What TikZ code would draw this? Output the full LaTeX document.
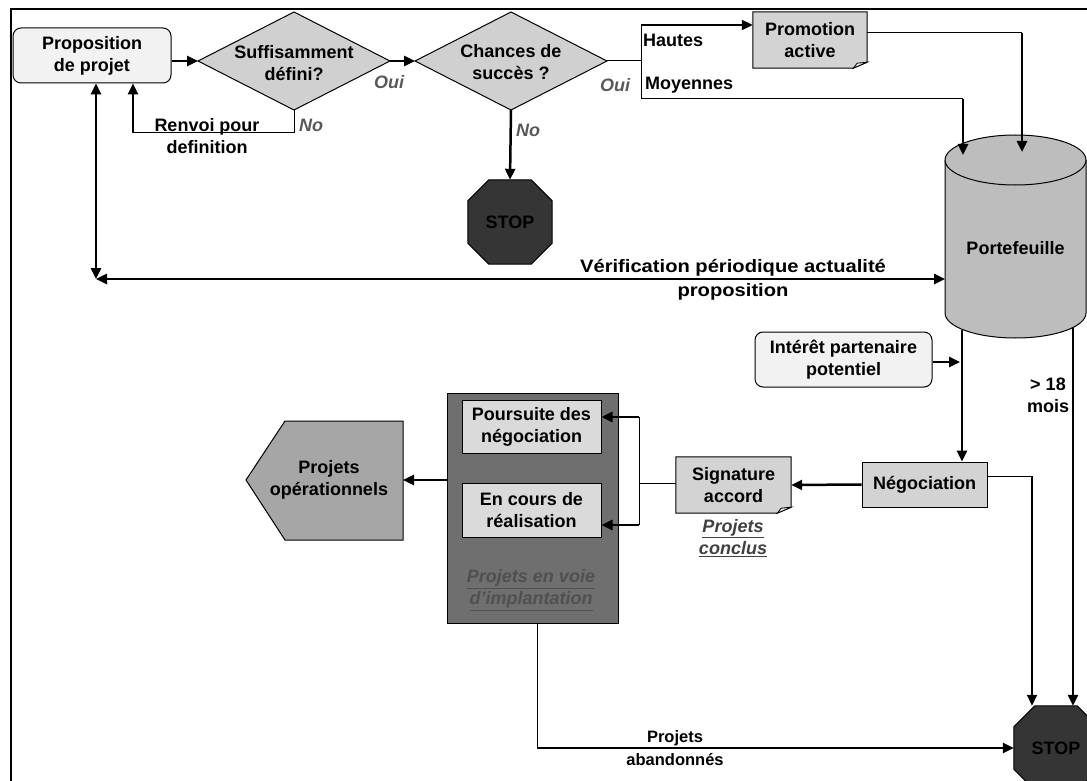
\documentclass[tikz,border=0pt]{standalone}
\usepackage{fontspec}
\usepackage{graphicx}
\setmainfont{Liberation Sans}
\usetikzlibrary{arrows.meta,shapes.geometric,calc}
\pgfdeclarelayer{bg}
\pgfsetlayers{bg,main}
\definecolor{lightfill}{HTML}{F2F2F2}
\definecolor{diamfill}{HTML}{D0D0D0}
\definecolor{boxfill}{HTML}{D3D3D3}
\definecolor{innerfill}{HTML}{DADADA}
\definecolor{darkfill}{HTML}{6F6F6F}
\definecolor{pentfill}{HTML}{A6A6A6}
\definecolor{cylfill}{HTML}{BDBDBD}
\definecolor{stopfill}{HTML}{353535}
\definecolor{labgray}{HTML}{595959}
\definecolor{impltext}{HTML}{505050}
\definecolor{conctext}{HTML}{404040}
\newcommand{\docshape}[2]{%
  \filldraw[fill=#2, line width=1pt] (#1.north west) -- (#1.north east) -- ([yshift=6pt]#1.south east) -- ([xshift=-14pt]#1.south east) -- (#1.south west) -- cycle;
  \filldraw[fill=#2!50!white, line width=0.8pt] ([xshift=-14pt]#1.south east) -- ([yshift=6pt]#1.south east) -- ([xshift=-10pt,yshift=5pt]#1.south east) -- cycle;
}
\newcommand{\octoshape}[1]{%
  \filldraw[fill=stopfill, line width=1pt]
    ([xshift=21pt]#1.north west) -- ([xshift=-21pt]#1.north east) -- ([yshift=-21pt]#1.north east)
    -- ([yshift=21pt]#1.south east) -- ([xshift=-21pt]#1.south east) -- ([xshift=21pt]#1.south west)
    -- ([yshift=21pt]#1.south west) -- ([yshift=-21pt]#1.north west) -- cycle;
}
\begin{document}
\begin{tikzpicture}[x=1pt,y=-1pt,
  every node/.style={font=\fontsize{18}{22}\selectfont\bfseries, align=center, inner sep=0pt},
  thinline/.style={line width=1pt},
  thickarrow/.style={line width=2.5pt, -{Triangle[length=11pt,width=10pt]}},
  dblarrow/.style={line width=2.5pt, {Triangle[length=11pt,width=10pt]}-{Triangle[length=11pt,width=10pt]}},
  diam/.style={draw, line width=1pt, fill=diamfill},
  rbox/.style={draw, line width=1pt, fill=lightfill, rounded corners=8pt},
  gbox/.style={draw, line width=1pt, fill=boxfill},
  ibox/.style={draw, line width=1pt, fill=innerfill},
  lab/.style={font=\fontsize{18}{22}\selectfont\bfseries\itshape, text=labgray},
  stopnode/.style={minimum width=84pt, minimum height=84pt, text=black}
]
\useasboundingbox (0,0) rectangle (1087,781);
\clip (0,0) rectangle (1087,781);
\draw[line width=1.2pt] (11,9) rectangle (1100,800);

% diamonds
\coordinate (d1W) at (198,61); \coordinate (d1N) at (294,12);
\coordinate (d1E) at (390,61); \coordinate (d1S) at (294,110);
\draw[diam] (d1W) -- (d1N) -- (d1E) -- (d1S) -- cycle;
\node (d1) at (294,63) {Suffisamment\\défini?};
\coordinate (d2W) at (415,61); \coordinate (d2N) at (511,12);
\coordinate (d2E) at (607,61); \coordinate (d2S) at (511,110);
\draw[diam] (d2W) -- (d2N) -- (d2E) -- (d2S) -- cycle;
\node (d2) at (511,62) {Chances de\\succès ?};

% boxes
\node[rbox, minimum width=158pt, minimum height=55pt] (prop) at (92,55.5) {Proposition\\de projet};
\node[minimum width=114pt, minimum height=56pt] (promo) at (810,40) {Promotion\\active};
\node[rbox, minimum width=177pt, minimum height=55pt] (intr) at (843.5,359.5) {Intérêt partenaire\\potentiel};
\node[gbox, minimum width=125pt, minimum height=45pt] (neg) at (924.5,484.5) {Négociation};
\node[minimum width=115pt, minimum height=56pt] (sig) at (733.5,485) {Signature\\accord};
\node[draw, line width=1pt, fill=darkfill, minimum width=171pt, minimum height=230pt] (impl) at (532.5,508) {};
\node[ibox, minimum width=139pt, minimum height=53pt] (pours) at (531.5,426.5) {Poursuite des\\négociation};
\node[ibox, minimum width=139pt, minimum height=54pt] (encours) at (531.5,510) {En cours de\\réalisation};
\node[font=\fontsize{18}{22}\selectfont\bfseries\itshape, text=impltext] (impltxt) at (531,590) {\underline{Projets en voie}\\\underline{d’implantation}};
\node[font=\fontsize{18}{22}\selectfont\bfseries\itshape, text=conctext] (conc) at (733,538) {\underline{Projets}\\\underline{conclus}};
\node (projop) at (329,480) {Projets\\opérationnels};
\coordinate (projopE) at (403,480);
\node[stopnode] (stop1) at (510,222) {STOP};
\node[stopnode] (stop2) at (1056,748) {STOP};

% cylinder
\fill[cylfill] (945,160) -- (945,313) arc[start angle=180, end angle=360, x radius=70.5pt, y radius=25pt] -- (1086,160) -- cycle;
\draw[line width=1pt] (945,160) -- (945,313) arc[start angle=180, end angle=360, x radius=70.5pt, y radius=25pt] -- (1086,160);
\draw[line width=1pt, fill=cylfill] (1015.5,160) ellipse[x radius=70.5pt, y radius=25pt];
\node (port) at (1015.5,248) {Portefeuille};
\coordinate (cylL) at (945,279);
\coordinate (cylIn1) at (963,155);
\coordinate (cylIn2) at (1022,152);
\coordinate (cylOut1) at (962,330);
\coordinate (cylOut2) at (1073,328);

\begin{pgfonlayer}{bg}
\docshape{promo}{boxfill}
\docshape{sig}{boxfill}
\octoshape{stop1}
\octoshape{stop2}
\draw[fill=pentfill, line width=1pt] (246,480) -- (285,421) -- (403,421) -- (403,540) -- (285,540) -- cycle;
\end{pgfonlayer}

% connectors
\draw[thickarrow] (prop.east |- d1W) -- (d1W);
\draw[thickarrow] (d1E) -- (d2W);
\coordinate (rvA) at (294,133);
\coordinate (rv) at (133,133);
\draw[thinline] (d1S) -- (rvA) -- (rv);
\draw[thickarrow] (rv) -- (rv |- prop.south);
\coordinate (vc) at (96,279);
\draw[dblarrow] (vc |- prop.south) -- (vc);
\draw[dblarrow] (vc) -- (cylL);

\coordinate (sp) at (641,61);
\coordinate (spT) at (641,25);
\coordinate (spB) at (641,99);
\coordinate (moyC) at (963,99);
\draw[thinline] (d2E) -- (sp);
\draw[thinline] (spT) -- (spB);
\draw[thickarrow, line width=2pt] (spT) -- (spT -| promo.west);
\draw[thinline] (spB) -- (moyC);
\draw[thickarrow] (moyC) -- (cylIn1);
\coordinate (prR) at (867,33);
\coordinate (prC) at (1022,33);
\draw[thinline] (prR) -- (prC);
\draw[thickarrow] (prC) -- (cylIn2);
\draw[thickarrow] (d2S) -- (stop1.north);

\draw[thickarrow] (cylOut1) -- (cylOut1 |- neg.north);
\coordinate (intIn) at (960,362);
\draw[thickarrow] (intr.east |- intIn) -- (intIn);
\draw[thickarrow] (cylOut2) -- (cylOut2 |- stop2.north);
\coordinate (negR) at (987,476);
\coordinate (negC) at (1032,476);
\draw[thinline] (negR) -- (negC);
\draw[thickarrow, line width=1.6pt] (negC) -- (negC |- stop2.north);
\draw[thickarrow] (neg.west) -- (sig.east);
\coordinate (sj) at (639,483);
\coordinate (sjT) at (639,417);
\coordinate (sjB) at (639,525);
\draw[thinline] (sig.west |- sj) -- (sj);
\draw[thinline] (sjT) -- (sjB);
\draw[thickarrow] (sjT) -- (sjT -| pours.east);
\draw[thickarrow] (sjB) -- (sjB -| encours.east);
\draw[thickarrow] (impl.west |- projopE) -- (projopE);
\coordinate (abC) at (537,748);
\draw[thinline] (impl.south -| abC) -- (abC);
\draw[thickarrow] (abC) -- (stop2.west);

% labels
\node[lab] (oui1) at (389,82) {Oui};
\node[lab] (no1) at (311,125) {No};
\node[lab] (oui2) at (615,85) {Oui};
\node[lab] (no2) at (528,130) {No};
\node (renvoi) at (207,136) {Renvoi pour\\definition};
\node[anchor=west] (hautes) at (643,40) {Hautes};
\node[anchor=west] (moy) at (645,85) {Moyennes};
\node[font=\fontsize{18}{24}\selectfont\bfseries] (verif) at (733,280) {\scalebox{1.12}[1]{Vérification périodique actualité}\\\scalebox{1.12}[1]{proposition}};
\node (mois) at (1048,395) {> 18\\mois};
\node[font=\fontsize{16.5}{23}\selectfont\bfseries] (aband) at (675,748) {Projets\\abandonnés};
\end{tikzpicture}
\end{document}
